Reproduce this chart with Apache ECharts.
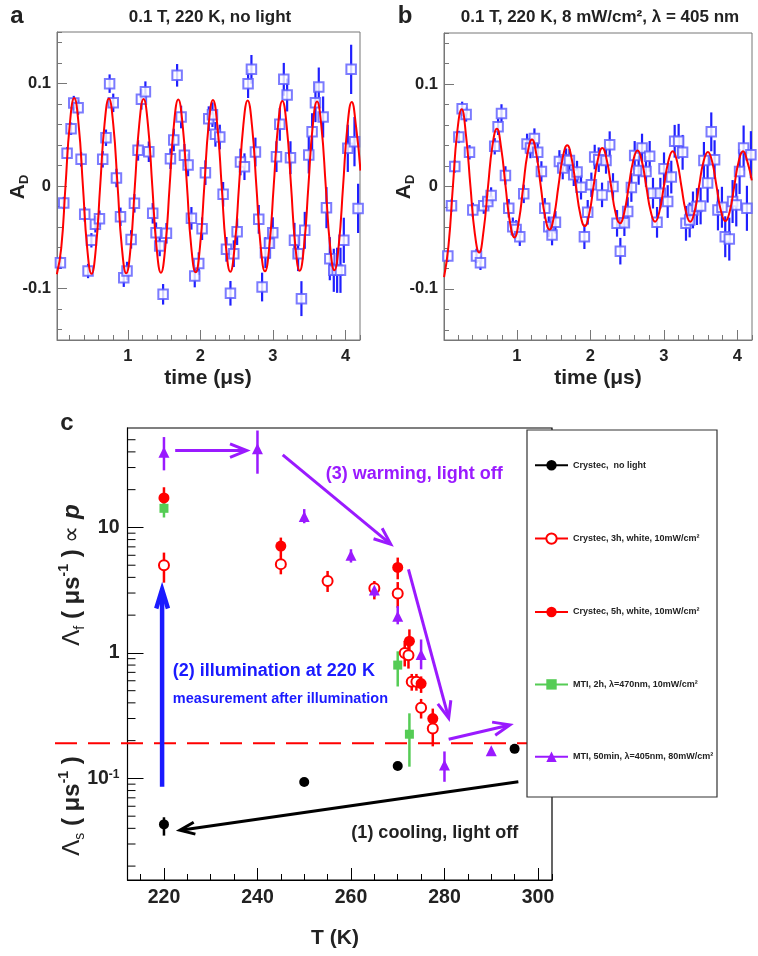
<!DOCTYPE html>
<html><head><meta charset="utf-8">
<script src="https://cdn.jsdelivr.net/npm/echarts@6/dist/echarts.min.js"></script>
<style>html,body{margin:0;padding:0;background:#fff}#c{width:758px;height:956px}</style>
</head><body><div id="c"></div>
<script>
// ---------- Panel a: 0.1 T, 220 K, no light ----------
const timeA = [0.072,0.118,0.164,0.219,0.256,0.316,0.357,0.407,0.453,0.499,0.554,0.610,0.655,0.700,0.750,0.800,0.844,0.900,0.945,0.990,1.046,1.092,1.142,1.188,1.243,1.290,1.344,1.390,1.440,1.487,1.533,1.588,1.634,1.680,1.735,1.781,1.831,1.877,1.923,1.978,2.024,2.070,2.116,2.167,2.208,2.268,2.314,2.360,2.415,2.461,2.507,2.553,2.608,2.658,2.704,2.759,2.805,2.851,2.897,2.952,2.998,3.049,3.095,3.150,3.196,3.242,3.297,3.347,3.393,3.439,3.494,3.540,3.586,3.632,3.692,3.738,3.784,3.839,3.885,3.931,3.977,4.032,4.078,4.124,4.174];
const valA = [-0.0747,-0.0166,0.0318,0.0558,0.0808,0.0763,0.026,-0.0276,-0.0828,-0.0529,-0.0373,-0.0318,0.026,0.047,0.0997,0.081,0.0078,-0.030,-0.0893,-0.0828,-0.052,-0.0169,0.0347,0.0844,0.0919,0.0334,-0.0266,-0.0455,-0.0584,-0.1055,-0.0461,0.0266,0.0448,0.1078,0.0672,0.0299,0.0205,-0.0315,-0.0877,-0.0756,-0.0416,0.013,0.0656,0.0695,0.0503,0.0477,-0.0081,-0.0617,-0.1045,-0.0659,-0.0445,0.0234,0.0188,0.0997,0.1136,0.0331,-0.0325,-0.0984,-0.0649,-0.0558,-0.0455,0.0286,0.0601,0.1039,0.0886,0.0276,-0.0529,-0.0659,-0.1097,-0.0432,0.0302,0.0529,0.0812,0.0964,0.0672,-0.0211,-0.0708,-0.0821,-0.0821,-0.0821,-0.0529,0.0367,0.1136,0.0432,-0.0218];
const errA = [0.006,0.006,0.006,0.006,0.007,0.007,0.007,0.007,0.007,0.007,0.008,0.008,0.008,0.008,0.009,0.009,0.009,0.009,0.009,0.009,0.009,0.009,0.010,0.010,0.010,0.010,0.010,0.010,0.010,0.010,0.010,0.010,0.011,0.011,0.011,0.011,0.011,0.011,0.011,0.011,0.011,0.012,0.012,0.012,0.012,0.012,0.012,0.012,0.012,0.013,0.013,0.013,0.013,0.014,0.014,0.014,0.014,0.014,0.015,0.015,0.015,0.015,0.016,0.016,0.016,0.016,0.017,0.017,0.017,0.018,0.018,0.018,0.019,0.019,0.020,0.020,0.021,0.021,0.022,0.022,0.022,0.023,0.024,0.024,0.024];
const fitA = [[0.023,-0.0860],[0.083,-0.0608],[0.142,0],[0.202,0.0607],[0.262,0.0857],[0.322,0.0606],[0.382,0],[0.441,-0.0605],[0.501,-0.0855],[0.561,-0.0604],[0.620,0],[0.680,0.0603],[0.740,0.0853],[0.800,0.0602],[0.860,0],[0.919,-0.0601],[0.979,-0.0850],[1.039,-0.0600],[1.098,0],[1.158,0.0599],[1.218,0.0848],[1.278,0.0598],[1.338,0],[1.397,-0.0597],[1.457,-0.0845],[1.517,-0.0596],[1.577,0],[1.636,0.0596],[1.696,0.0843],[1.756,0.0595],[1.816,0],[1.875,-0.0594],[1.935,-0.0841],[1.995,-0.0593],[2.055,0],[2.114,0.0592],[2.174,0.0838],[2.234,0.0591],[2.294,0],[2.353,-0.0590],[2.413,-0.0836],[2.473,-0.0589],[2.533,0],[2.592,0.0588],[2.652,0.0833],[2.712,0.0587],[2.772,0],[2.831,-0.0586],[2.891,-0.0831],[2.951,-0.0585],[3.011,0],[3.070,0.0584],[3.130,0.0829],[3.190,0.0584],[3.250,0],[3.309,-0.0583],[3.369,-0.0826],[3.429,-0.0582],[3.489,0],[3.548,0.0581],[3.608,0.0824],[3.668,0.0580],[3.728,0],[3.787,-0.0579],[3.847,-0.0821],[3.907,-0.0578],[3.967,0],[4.026,0.0577],[4.086,0.0819],[4.146,0.0576],[4.206,0.015]];

// ---------- Panel b: 0.1 T, 220 K, 8 mW/cm2, 405 nm ----------
const timeB = [0.062,0.112,0.157,0.212,0.257,0.311,0.357,0.402,0.452,0.506,0.551,0.606,0.651,0.700,0.746,0.792,0.846,0.891,0.946,0.991,1.041,1.095,1.140,1.186,1.240,1.285,1.335,1.381,1.435,1.480,1.526,1.580,1.625,1.671,1.716,1.775,1.820,1.874,1.920,1.965,2.015,2.060,2.115,2.160,2.214,2.264,2.309,2.364,2.409,2.464,2.509,2.559,2.604,2.658,2.704,2.758,2.808,2.853,2.908,2.953,3.003,3.053,3.102,3.148,3.202,3.256,3.302,3.352,3.397,3.451,3.501,3.546,3.596,3.646,3.691,3.737,3.791,3.836,3.891,3.936,3.986,4.031,4.086,4.131,4.185];
const valB = [-0.0678,-0.0187,0.0196,0.0484,0.0759,0.0704,0.0334,-0.0229,-0.0678,-0.0746,-0.0187,-0.0147,-0.0088,0.0393,0.0583,0.0714,0.0108,-0.0213,-0.0393,-0.0419,-0.0491,-0.0072,0.0416,0.0376,0.0468,0.0334,0.0147,-0.0213,-0.0393,-0.0475,-0.035,0.0245,0.018,0.0262,0.0255,0.0115,0.0141,-0.0007,-0.0491,-0.0252,0.0016,0.0288,0.0262,-0.0082,0.0255,0.0409,0.0,-0.036,-0.0632,-0.0354,-0.0245,-0.001,0.0304,0.0157,0.0376,0.0147,0.0295,-0.0065,-0.035,-0.0065,0.0173,-0.0147,0.0092,0.0442,0.0442,0.0334,-0.036,-0.0327,-0.0229,-0.0196,-0.019,0.0255,0.0033,0.0534,0.0262,-0.0229,-0.0203,-0.0491,-0.0514,-0.0147,-0.018,0.0147,0.0376,-0.0213,0.0311];
const errB = [0.006,0.006,0.006,0.006,0.007,0.007,0.007,0.007,0.007,0.007,0.008,0.008,0.008,0.008,0.008,0.009,0.009,0.009,0.009,0.009,0.009,0.009,0.010,0.010,0.010,0.010,0.010,0.010,0.010,0.010,0.011,0.011,0.011,0.011,0.011,0.011,0.011,0.012,0.012,0.012,0.012,0.012,0.012,0.012,0.013,0.013,0.013,0.013,0.013,0.013,0.014,0.014,0.014,0.014,0.014,0.015,0.015,0.015,0.015,0.015,0.016,0.016,0.016,0.016,0.017,0.017,0.017,0.017,0.018,0.018,0.018,0.018,0.019,0.019,0.019,0.020,0.020,0.020,0.021,0.021,0.021,0.022,0.022,0.022,0.023];
const fitB = [[0.011,-0.0885],[0.071,-0.058],[0.131,0],[0.190,0.0533],[0.250,0.0754],[0.310,0.0495],[0.370,0],[0.429,-0.0457],[0.489,-0.0646],[0.549,-0.0428],[0.609,0],[0.669,0.0399],[0.729,0.0564],[0.788,0.0375],[0.848,0],[0.908,-0.0352],[0.968,-0.0498],[1.028,-0.0338],[1.088,0],[1.147,0.0325],[1.207,0.0459],[1.267,0.0311],[1.327,0],[1.386,-0.0297],[1.446,-0.042],[1.506,-0.0291],[1.566,0],[1.626,0.0285],[1.686,0.0403],[1.745,0.0279],[1.805,0],[1.865,-0.0274],[1.925,-0.0387],[1.985,-0.0270],[2.044,0],[2.104,0.0267],[2.164,0.0377],[2.224,0.0260],[2.284,0],[2.343,-0.0255],[2.403,-0.036],[2.463,-0.0251],[2.523,0],[2.583,0.0248],[2.643,0.0351],[2.702,0.0246],[2.762,0],[2.822,-0.0243],[2.882,-0.0344],[2.941,-0.0243],[3.001,0],[3.061,0.0243],[3.121,0.0344],[3.181,0.0243],[3.240,0],[3.300,-0.0243],[3.360,-0.0344],[3.420,-0.0241],[3.479,0],[3.539,0.0239],[3.600,0.0338],[3.659,0.0239],[3.718,0],[3.778,-0.0239],[3.839,-0.0338],[3.898,-0.0241],[3.958,0],[4.018,0.0243],[4.078,0.0344],[4.137,0.0243],[4.197,0.006]];

// ---------- Panel c: relaxation rate vs temperature  [T, value, low, high] ----------
const seriesNames = ['Crystec,  no light','Crystec, 3h, white, 10mW/cm²','Crystec, 5h, white, 10mW/cm²','MTI, 2h, λ=470nm, 10mW/cm²','MTI, 50min, λ=405nm, 80mW/cm²'];
const cBlack = [[220,0.043,0.035,0.049],[250,0.0935,0.0935,0.0935],[270,0.1255,0.1255,0.1255],[295,0.172,0.172,0.172]];
const cRedOpen = [[220,5.0,3.63,6.3],[245,5.1,4.23,5.94],[255,3.75,3.06,4.5],[265,3.27,2.67,3.74],[270,2.98,2.29,3.67],[271.5,1.0,0.78,1.25],[272.3,0.96,0.75,1.2],[273,0.59,0.5,0.68],[274,0.59,0.5,0.68],[275,0.365,0.3,0.43],[277.5,0.25,0.18,0.3]];
const cRedFull = [[220,17.2,14.0,20.9],[245,7.1,5.9,8.3],[270,4.8,3.86,5.75],[272.5,1.24,0.94,1.54],[275,0.57,0.48,0.65],[277.5,0.30,0.24,0.36]];
const cGreen = [[220,14.2,12.0,16.3],[270,0.8,0.54,1.03],[272.5,0.225,0.124,0.33]];
const cPurple = [[220,39.8,28.5,52.5],[240,42.3,26.8,59.2],[250,12.2,10.8,14.0],[260,6.0,5.25,6.7],[265,3.17,2.8,3.5],[270,1.96,1.69,2.36],[275,0.97,0.74,1.28],[280,0.128,0.094,0.164],[290,0.166,0.166,0.166]];
const thresholdRate = 0.1905;
const logMinorTicks = [0.02,0.03,0.04,0.05,0.06,0.07,0.08,0.09,0.2,0.3,0.4,0.5,0.6,0.7,0.8,0.9,2,3,4,5,6,7,8,9,20,30,40,50];

const FONT = '"Liberation Sans", Arial, Helvetica, sans-serif';
const PURPLE = '#9a1aff', BLUE = '#1a1aff', GREEN = '#55cc55', RED = '#ff0000';

function errSeries(xi, yi, data, color, w, z) {
  return { type:'custom', xAxisIndex:xi, yAxisIndex:yi, data, z, silent:true, clip:true,
    encode:{x:0, y:[1,2]},
    renderItem(params, api) {
      const x = api.value(0);
      const p1 = api.coord([x, api.value(1)]), p2 = api.coord([x, api.value(2)]);
      return { type:'line', shape:{x1:p1[0], y1:p1[1], x2:p2[0], y2:p2[1]}, style:{stroke:color, lineWidth:w} };
    } };
}
function tAxis(grid, min, max, split, iv, major, color, big) {
  return { gridIndex:grid, type:'value', min, max, splitNumber:split, minInterval:iv, maxInterval:iv, position:'bottom',
    axisLine:{onZero:false, lineStyle:{color, width:1}}, splitLine:{show:false},
    axisTick:{inside:true, length:major, lineStyle:{color, width:1}},
    axisLabel:{showMinLabel:false, showMaxLabel:false, fontSize:big ? 19.5 : 16.5, fontWeight:'bold', color:'#222', fontFamily:FONT, margin:8} };
}
function minorAxis(grid, min, max, split, iv, len, color, pos) {
  return { gridIndex:grid, type:'value', min, max, splitNumber:split, minInterval:iv, maxInterval:iv, position:pos,
    axisLine:{show:false, onZero:false}, splitLine:{show:false}, axisLabel:{show:false},
    axisTick:{inside:true, length:len, lineStyle:{color, width:1}} };
}
const GRAY = '#777';
const xAxes = [
  tAxis(0, 0.025, 4.2, 4, 1, 10, GRAY),
  minorAxis(0, 0.025, 4.2, 21, 0.2, 5, GRAY, 'bottom'),
  tAxis(1, 0.01, 4.2, 4, 1, 10, GRAY),
  minorAxis(1, 0.01, 4.2, 21, 0.2, 5, GRAY, 'bottom'),
  tAxis(2, 212.2, 303, 4, 20, 12, '#000', true),
  minorAxis(2, 212.2, 303, 18, 5, 6, '#000', 'bottom')
];
function yLin(grid) {
  return { gridIndex:grid, type:'value', min:-0.15, max:0.15, splitNumber:3, minInterval:0.1, maxInterval:0.1, position:'left',
    axisLine:{onZero:false, lineStyle:{color:GRAY}}, splitLine:{show:false},
    axisTick:{inside:true, length:10, lineStyle:{color:GRAY}},
    axisLabel:{showMinLabel:false, showMaxLabel:false, fontSize:16.5, fontWeight:'bold', color:'#222', fontFamily:FONT, margin:6} };
}
const yAxes = [
  yLin(0), minorAxis(0, -0.15, 0.15, 15, 0.02, 5, GRAY, 'left'),
  yLin(1), minorAxis(1, -0.15, 0.15, 15, 0.02, 5, GRAY, 'left'),
  { gridIndex:2, type:'log', logBase:10, min:0.0155, max:62, position:'left',
    axisLine:{onZero:false, lineStyle:{color:'#000'}}, splitLine:{show:false},
    axisTick:{inside:true, length:16, lineStyle:{color:'#000'}},
    axisLabel:{showMinLabel:false, showMaxLabel:false, fontSize:19.5, fontWeight:'bold', color:'#222', fontFamily:FONT, margin:8,
      formatter: v => Math.abs(v - 0.1) < 1e-9 ? '10{sup|-1}' : String(Math.round(v)),
      rich:{ sup:{fontSize:12, fontWeight:'bold', fontFamily:FONT, color:'#222', verticalAlign:'top', lineHeight:14} } } }
];

const series = [
  errSeries(0, 0, timeA.map((t,i)=>[t, valA[i]-errA[i], valA[i]+errA[i]]), '#2020ff', 2.2, 2),
  { type:'scatter', xAxisIndex:0, yAxisIndex:0, data: timeA.map((t,i)=>[t, valA[i]]), symbol:'emptyRect', symbolSize:9.5,
    itemStyle:{color:'#5a5aff', borderWidth:1.3}, z:3, silent:true },
  { type:'line', xAxisIndex:0, yAxisIndex:0, data: fitA, smooth:true, showSymbol:false, lineStyle:{color:RED, width:2}, z:4, silent:true },
  errSeries(2, 2, timeB.map((t,i)=>[t, valB[i]-errB[i], valB[i]+errB[i]]), '#2020ff', 2.2, 2),
  { type:'scatter', xAxisIndex:2, yAxisIndex:2, data: timeB.map((t,i)=>[t, valB[i]]), symbol:'emptyRect', symbolSize:9.5,
    itemStyle:{color:'#5a5aff', borderWidth:1.3}, z:3, silent:true },
  { type:'line', xAxisIndex:2, yAxisIndex:2, data: fitB, smooth:true, showSymbol:false, lineStyle:{color:RED, width:2}, z:4, silent:true },
  // log minor ticks (panel c)
  { type:'custom', xAxisIndex:4, yAxisIndex:4, silent:true, z:1, data: logMinorTicks.map(v=>[212.2, v]),
    renderItem(params, api) { const p = api.coord([api.value(0), api.value(1)]); const x0 = params.coordSys.x;
      return { type:'line', shape:{x1:x0, y1:p[1], x2:x0+8, y2:p[1]}, style:{stroke:'#000', lineWidth:1} }; } }
];
const groups = [
  [cBlack, '#000', 'circle', 10, 2.5],
  [cRedOpen, RED, 'emptyCircle', 10, 2.5],
  [cRedFull, RED, 'circle', 11, 2.5],
  [cGreen, GREEN, 'rect', 9, 2.5],
  [cPurple, PURPLE, 'triangle', 11, 2.5]
];
groups.forEach((g, i) => {
  series.push(errSeries(4, 4, g[0].map(d=>[d[0], d[2], d[3]]), g[1], g[4], 3));
  series.push({ type:'line', name:seriesNames[i], xAxisIndex:4, yAxisIndex:4, data:g[0].map(d=>[d[0], d[1]]),
    symbol:g[2], symbolSize:g[3], showSymbol:true, itemStyle:{color:g[1], borderWidth: g[2]==='emptyCircle'?1.6:0},
    lineStyle:{width:0, opacity:0}, z:5, silent:true, animation:false });
});

const chart = echarts.init(document.getElementById('c'));
chart.setOption({
  animation:false,
  backgroundColor:'#fff',
  grid:[
    {left:57, top:32, width:303, height:308, show:true, borderColor:GRAY, borderWidth:1, backgroundColor:'transparent'},
    {left:444, top:33, width:308, height:307, show:true, borderColor:GRAY, borderWidth:1, backgroundColor:'transparent'},
    {left:127.5, top:428, width:424.5, height:452, show:true, borderColor:'#000', borderWidth:1.2, backgroundColor:'transparent'}
  ],
  xAxis:xAxes, yAxis:yAxes, series,
  legend:{ orient:'vertical', left:529, top:455, itemWidth:33, itemHeight:13, itemGap:62, z:20, selectedMode:false,
    data:seriesNames, lineStyle:{width:2, opacity:1},
    textStyle:{fontSize:9, fontWeight:'bold', color:'#222', fontFamily:FONT} }
});

// ---------- annotations ----------
const px = (T, v) => chart.convertToPixel({xAxisIndex:4, yAxisIndex:4}, [T, v]);
function arrow(a, b, color, w, hl, ang) {
  const p0 = px(a[0], a[1]), p1 = px(b[0], b[1]);
  const dx = p1[0]-p0[0], dy = p1[1]-p0[1], L = Math.hypot(dx, dy), ux = dx/L, uy = dy/L;
  const r = ang*Math.PI/180, c = Math.cos(r), s = Math.sin(r);
  const lw = [p1[0] - hl*(ux*c - uy*s), p1[1] - hl*(uy*c + ux*s)];
  const rw = [p1[0] - hl*(ux*c + uy*s), p1[1] - hl*(uy*c - ux*s)];
  const end = [p1[0] - ux*w*0.8, p1[1] - uy*w*0.8];
  return [
    {type:'polyline', shape:{points:[p0, end]}, style:{stroke:color, lineWidth:w, fill:null}, z:8, silent:true},
    {type:'polyline', shape:{points:[lw, p1, rw]}, style:{stroke:color, lineWidth:w, fill:null, lineJoin:'miter'}, z:8, silent:true}
  ];
}
function label(T, v, text, color, size, align) {
  const p = px(T, v);
  return {type:'text', x:p[0], y:p[1], z:9, silent:true,
    style:{text, fill:color, fontSize:size, fontWeight:'bold', fontFamily:FONT, align, verticalAlign:'middle'}};
}
const yDash = px(250, thresholdRate)[1];
const txt = (x, y, text, size, extra) => Object.assign({type:'text', x, y, silent:true, z:9,
  style:Object.assign({text, fill:'#222', fontSize:size, fontWeight:'bold', fontFamily:FONT, align:'center', verticalAlign:'middle'}, extra && extra.style)}, extra && extra.el);
const richAxisY = {
  l:{fontSize:24, fontFamily:FONT, fill:'#222'},
  sub:{fontSize:14, fontFamily:FONT, fill:'#222', verticalAlign:'bottom', lineHeight:30},
  b:{fontSize:24, fontWeight:'bold', fontFamily:FONT, fill:'#222'},
  sup:{fontSize:14, fontWeight:'bold', fontFamily:FONT, fill:'#222', verticalAlign:'top', lineHeight:30},
  bi:{fontSize:24, fontWeight:'bold', fontStyle:'italic', fontFamily:FONT, fill:'#222'}
};
const richAD = { sub:{fontSize:13, fontWeight:'bold', fontFamily:FONT, fill:'#222', verticalAlign:'bottom', lineHeight:26}, m:{fontSize:21, fontWeight:'bold', fontFamily:FONT, fill:'#222'} };
const graphic = [
  txt(17, 16, 'a', 24), txt(405, 16, 'b', 24), txt(67, 423, 'c', 24),
  txt(210, 17, '0.1 T, 220 K, no light', 17),
  txt(600, 17, '0.1 T, 220 K, 8 mW/cm², λ = 405 nm', 17),
  txt(208, 378, 'time (μs)', 21), txt(598, 378, 'time (μs)', 21),
  txt(335, 938, 'T (K)', 21),
  txt(18, 187, '', 21, {el:{rotation:Math.PI/2}, style:{text:'{m|A}{sub|D}', rich:richAD}}),
  txt(404, 187, '', 21, {el:{rotation:Math.PI/2}, style:{text:'{m|A}{sub|D}', rich:richAD}}),
  txt(72, 575, '', 24, {el:{rotation:Math.PI/2}, style:{text:'{l|Λ}{sub|f}{b| ( μs}{sup|-1}{b| )}{l| ∝ }{bi|p}', rich:richAxisY}}),
  txt(72, 806, '', 24, {el:{rotation:Math.PI/2}, style:{text:'{l|Λ}{sub|s}{b| ( μs}{sup|-1}{b| )}', rich:richAxisY}}),
  {type:'line', shape:{x1:55, y1:yDash, x2:527, y2:yDash}, style:{stroke:RED, lineWidth:2, lineDash:[22, 11]}, z:4, silent:true},
  {type:'rect', shape:{x:527, y:430, width:190, height:367}, style:{fill:'#fff', stroke:'#333', lineWidth:1.2}, z:15, silent:true},
  ...arrow([222.4, 41], [237.7, 41], PURPLE, 3, 18, 22),
  ...arrow([245.4, 37.9], [268.5, 7.36], PURPLE, 3, 18, 22),
  ...arrow([272.3, 4.64], [280.9, 0.302], PURPLE, 3, 18, 22),
  ...arrow([280.9, 0.205], [294, 0.267], PURPLE, 3, 18, 22),
  ...arrow([219.6, 0.0858], [219.6, 3.21], BLUE, 4.5, 20, 17),
  ...arrow([295.8, 0.094], [223.4, 0.0386], '#000', 3, 16, 22),
  label(254.6, 26.7, '(3) warming, light off', PURPLE, 18, 'left'),
  label(221.9, 0.713, '(2) illumination at 220 K', BLUE, 18, 'left'),
  label(221.9, 0.428, 'measurement after illumination', BLUE, 14.5, 'left'),
  label(295.8, 0.037, '(1) cooling, light off', '#222', 18, 'right')
];
chart.setOption({graphic});
</script>
</body></html>
